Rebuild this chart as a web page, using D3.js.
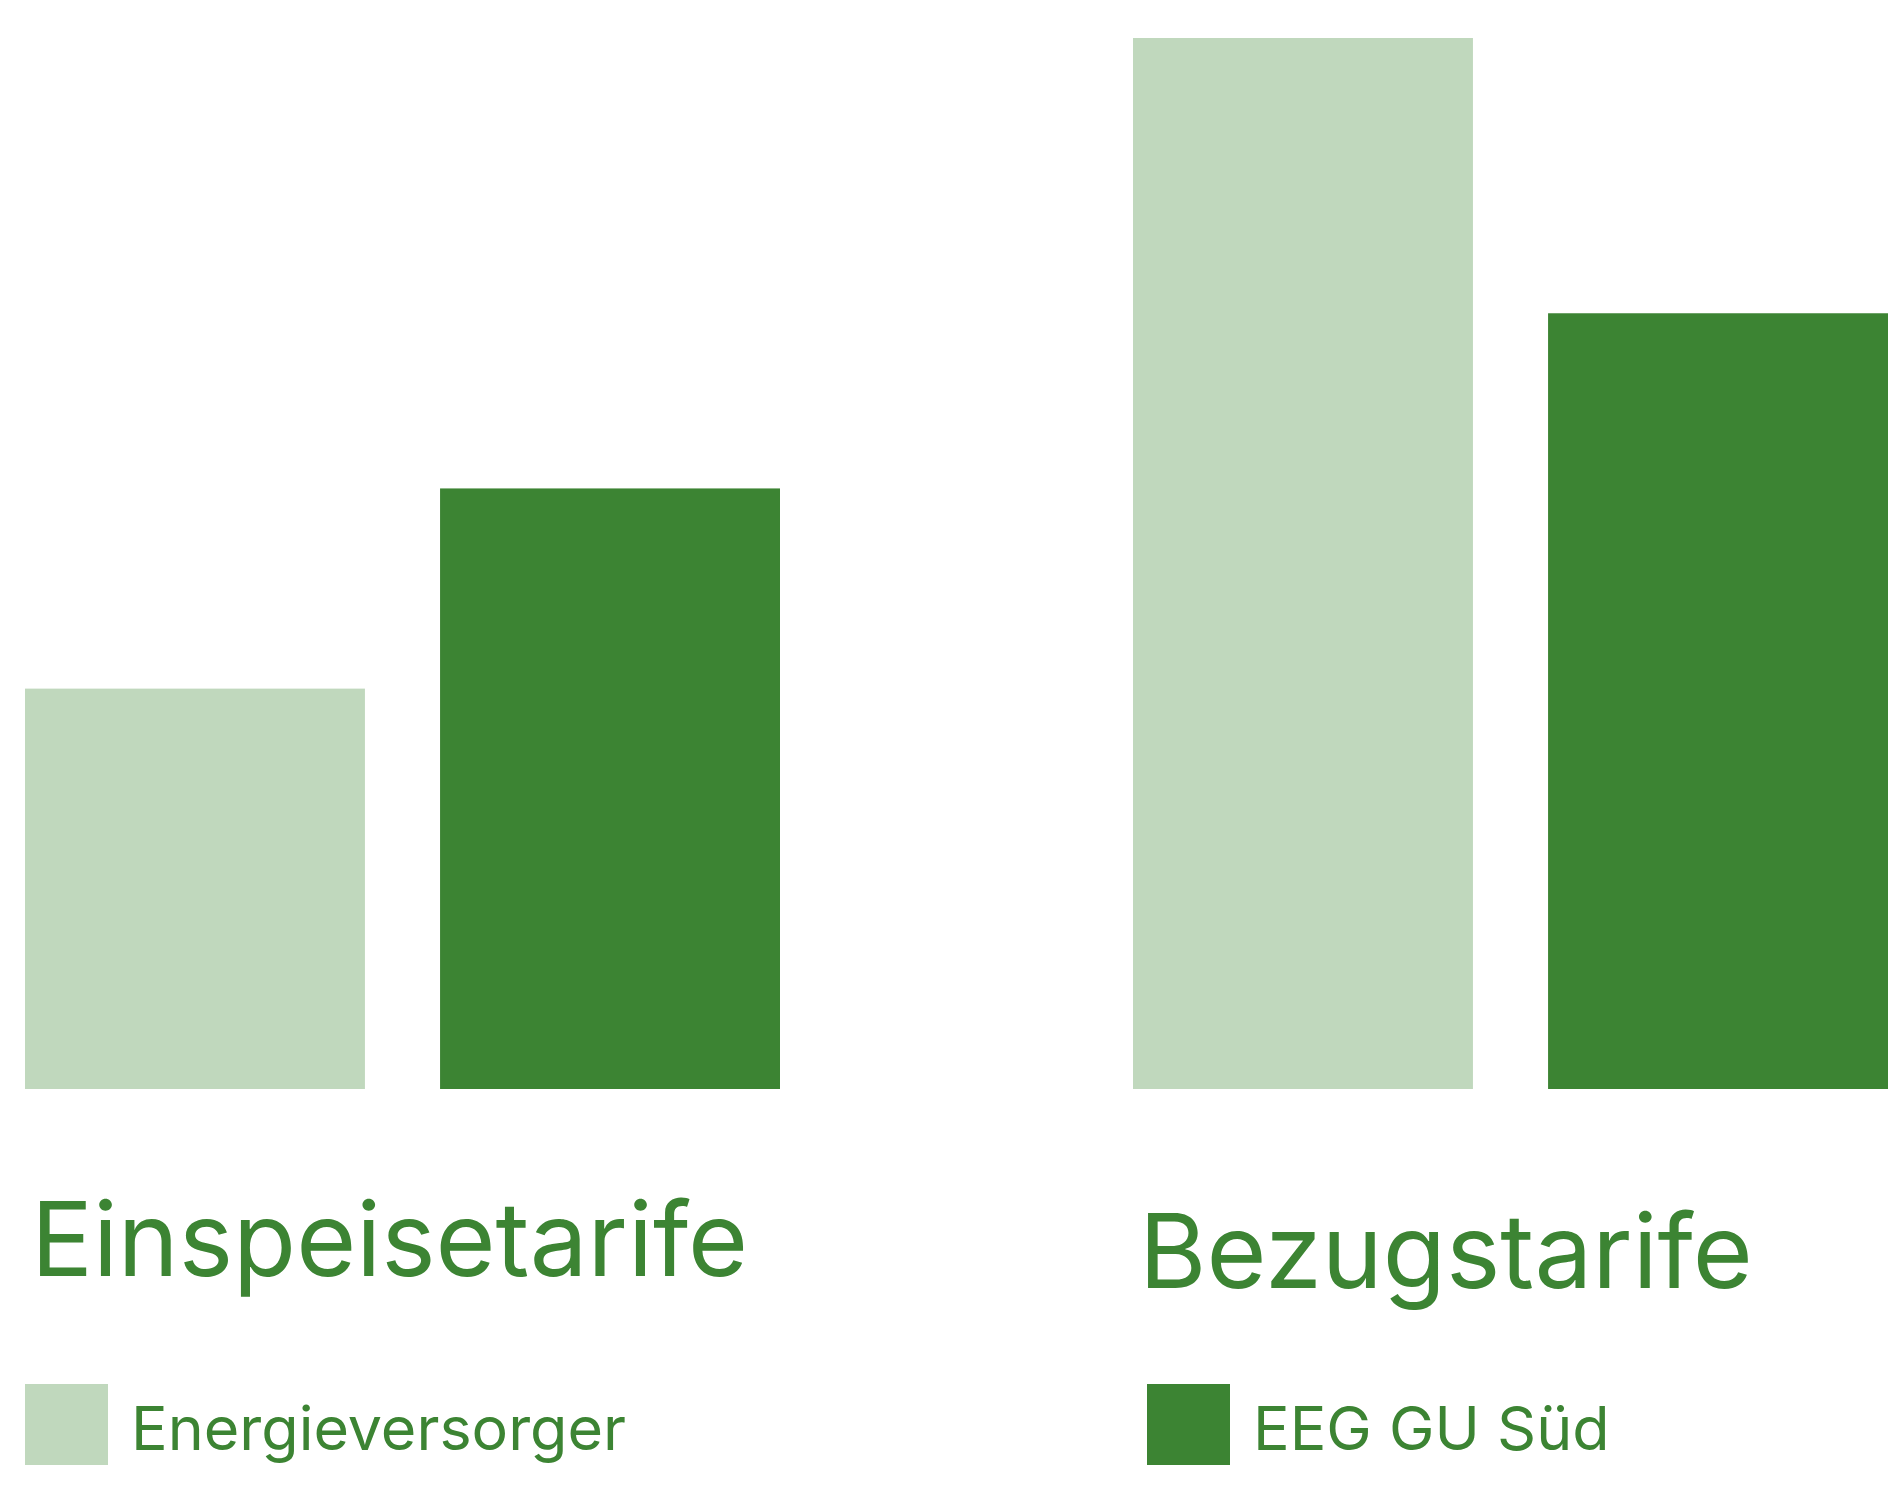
<!DOCTYPE html>
<html>
<head><meta charset="utf-8"></head>
<style>
  body { margin:0; background:#fff; }
  text { font-family: Inter, "Open Sans", sans-serif; fill:#3c8433; }
</style>
<script src="https://d3js.org/d3.v7.min.js"></script>
<body>
<script>
  var groups = ["Einspeisetarife", "Bezugstarife"];
  var series = ["Energieversorger", "EEG GU Süd"];
  var energieversorger = [8, 21];
  var eegGuSued = [12, 15.5];
  var colors = ["#c0d8bd", "#3c8433"];

  var width = 1902, height = 1500, base = 1089;
  var svg = d3.select("body").append("svg")
      .attr("width", width).attr("height", height);

  var y = d3.scaleLinear().domain([0, 21]).range([base, 38]);
  var x0 = d3.scaleBand().domain(groups).range([25, 1888]).paddingInner(0.3186);
  var x1 = d3.scaleBand().domain(series).range([0, x0.bandwidth()]).paddingInner(0.181);

  var data = groups.map(function(g, i) {
    return { group: g, values: [energieversorger[i], eegGuSued[i]] };
  });

  var g = svg.selectAll("g.grp").data(data).enter().append("g")
      .attr("class", "grp")
      .attr("transform", function(d) { return "translate(" + x0(d.group) + ",0)"; });

  g.selectAll("rect").data(function(d) { return d.values; }).enter().append("rect")
      .attr("x", function(d, i) { return x1(series[i]); })
      .attr("y", function(d) { return y(d); })
      .attr("width", x1.bandwidth())
      .attr("height", function(d) { return base - y(d); })
      .attr("fill", function(d, i) { return colors[i]; });

  // group titles
  svg.selectAll("text.title").data(groups).enter().append("text")
      .attr("class", "title")
      .attr("x", function(d) { return x0(d) + 6; })
      .attr("y", function(d, i) { return i === 0 ? 1276 : 1288; })
      .attr("font-size", 103)
      .text(function(d) { return d; });

  // legend
  var legX = [25, 1147];
  var leg = svg.selectAll("g.leg").data(series).enter().append("g")
      .attr("transform", function(d, i) { return "translate(" + legX[i] + ",1384)"; });
  leg.append("rect").attr("width", 83).attr("height", 81)
      .attr("fill", function(d, i) { return colors[i]; });
  leg.append("text").attr("x", 106).attr("y", 66)
      .attr("font-size", 61)
      .text(function(d) { return d; });
</script>
</body>
</html>
